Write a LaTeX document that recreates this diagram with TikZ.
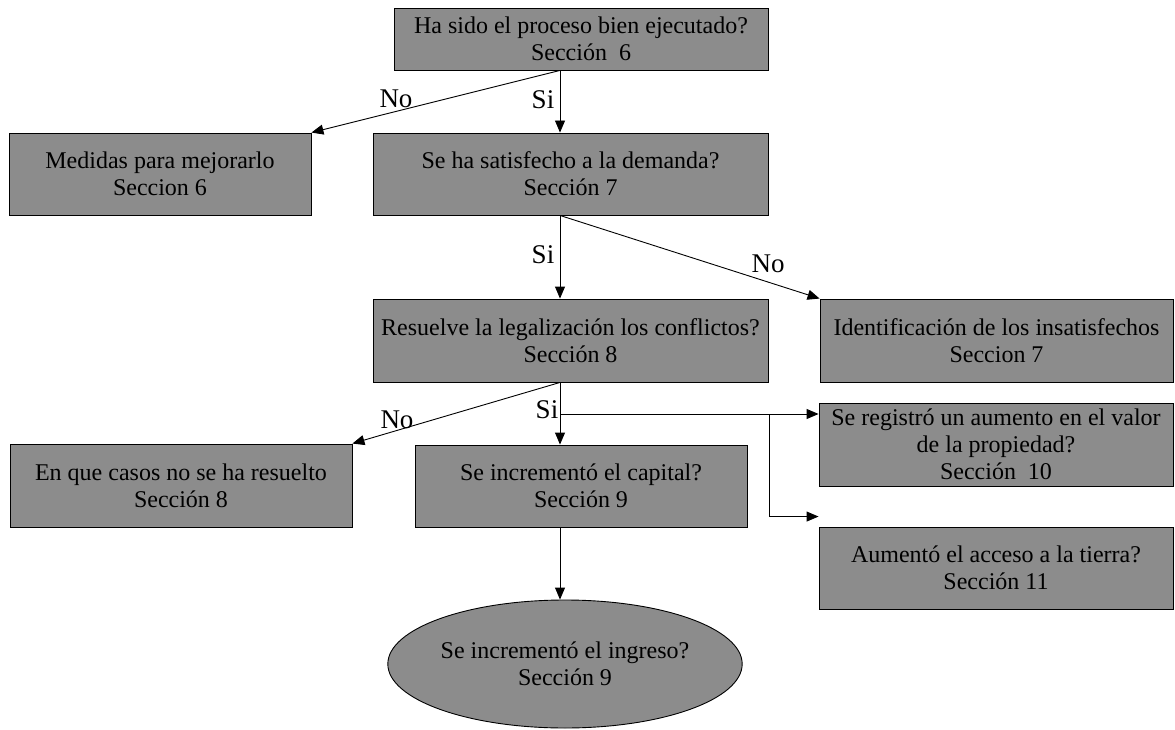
\documentclass[tikz,border=0pt]{standalone}
\usepackage{fontspec}
\setmainfont{Liberation Serif}
\usepackage{tikz}
\usetikzlibrary{arrows.meta,shapes.geometric}
\definecolor{cajagris}{RGB}{140,140,140}
\tikzset{
  caja/.style={draw=black,fill=cajagris,line width=0.9pt,align=center,inner sep=1pt,
    font=\fontsize{24}{27}\selectfont},
  ovalo/.style={caja,ellipse},
  flecha/.style={line width=0.9pt,-{Triangle[length=12pt,width=10pt]}},
  linea/.style={line width=0.9pt},
  etiqueta/.style={inner sep=0pt,font=\fontsize{27}{30}\selectfont}
}
% caja desde la esquina (x1,y1) hasta (x2,y2)
\newcommand\cajanodo[6]{
  \node[caja,minimum width={#4-#2},minimum height={#5-#3}]
    (#1) at ({(#2+#4)/2},{(#3+#5)/2}) {#6};
}

\begin{document}
\begin{tikzpicture}[x=1pt,y=-1pt]
    \useasboundingbox (0,0) rectangle (1175,730);

    \cajanodo{proceso}{394}{8}{768}{70}{Ha sido el proceso bien ejecutado?\\Sección\ \ 6}
    \cajanodo{medidas}{9}{133}{311}{215}{Medidas para mejorarlo\\Seccion 6}
    \cajanodo{demanda}{373}{133}{768}{215}{Se ha satisfecho a la demanda?\\Sección 7}
    \cajanodo{conflictos}{373}{299}{768}{382}{Resuelve la legalización los conflictos?\\Sección 8}
    \cajanodo{insatis}{820}{299}{1173}{382}{Identificación de los insatisfechos\\Seccion 7}
    \cajanodo{valor}{819}{403}{1173}{486}{Se registró un aumento en el valor\\de la propiedad?\\Sección\ \ 10}
    \cajanodo{casos}{10}{444}{352}{527}{En que casos no se ha resuelto\\Sección 8}
    \cajanodo{capital}{415}{445}{747}{527}{Se incrementó el capital?\\Sección 9}
    \cajanodo{tierra}{819}{527}{1173}{609}{Aumentó el acceso a la tierra?\\Sección 11}
    \node[ovalo,minimum width=343,minimum height=128] (ingreso) at (565,664)
      {Se incrementó el ingreso?\\Sección 9};

    \coordinate (eje) at (560,0);
    \coordinate (rama) at (560,414);
    \coordinate (codo) at (769,414);

    \draw[flecha] (proceso.south -| eje) -- (demanda.north -| eje);
    \draw[flecha] (proceso.south -| eje) -- (medidas.north east);
    \draw[flecha] (demanda.south -| eje) -- (conflictos.north -| eje);
    \draw[flecha] (demanda.south -| eje) -- (insatis.north west);
    \draw[flecha] (conflictos.south -| eje) -- (capital.north -| eje);
    \draw[flecha] (conflictos.south -| eje) -- (casos.north east);
    \draw[flecha] (rama) -- (rama -| valor.west);
    \draw[flecha] (codo) |- ([yshift=10pt]tierra.north west);
    \draw[flecha] (capital.south -| eje) -- (ingreso.north -| eje);

    \node[etiqueta] (si1) at (543,100) {Si};
    \node[etiqueta] (no1) at (396,99) {No};
    \node[etiqueta] (si2) at (543,255) {Si};
    \node[etiqueta] (no2) at (768,264) {No};
    \node[etiqueta] (si3) at (547,410) {Si};
    \node[etiqueta] (no3) at (397,420) {No};

\end{tikzpicture}
\end{document}
